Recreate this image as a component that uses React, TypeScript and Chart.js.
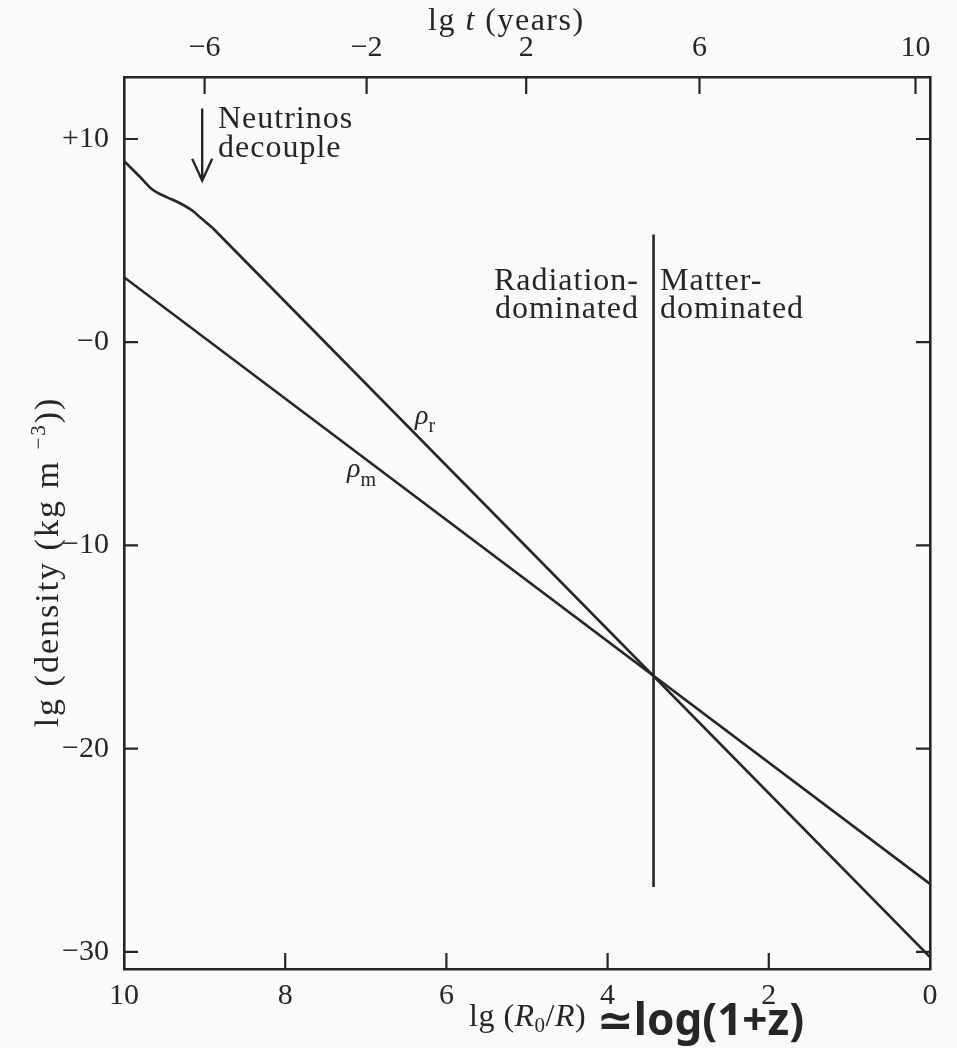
import React, { useEffect, useRef } from "react";
import { Chart, registerables } from "chart.js";

Chart.register(...registerables);

// ---- data ----
const lgR_matter = [10, 0];
const rhoMatter = [3.2, -26.65];
// radiation density: curved part around neutrino decoupling, then the straight slope-4 part
const lgR_radiationEarly = [10, 9.8, 9.64, 9.47, 9.31, 9.16, 9.06, 8.9];
const rhoRadiationEarly = [8.92, 8.13, 7.49, 7.14, 6.85, 6.5, 6.16, 5.62];
const lgR_radiationLate = [8.9, 0];
const rhoRadiationLate = [5.62, -30.25];
const equalityLgR = [3.43, 3.43];
const equalityRho = [5.3, -26.8];
const bottomTicks = [10, 8, 6, 4, 2, 0];
const densityTicks = [10, 0, -10, -20, -30];
const densityLabels = ["+10", "−0", "−10", "−20", "−30"];
const timeTickPos = [9.0, 6.99, 5.01, 2.86, 0.18];
const timeLabels = ["−6", "−2", "2", "6", "10"];
const neutrinoArrowLgR = 9.03;
const neutrinoArrowFrom = 11.5;
const neutrinoArrowTo = 7.95;

const INK = "#262626";
const SERIF = '"Liberation Serif", "DejaVu Serif", serif';

type Run = [string, string, number?];

function runsWidth(ctx: CanvasRenderingContext2D, runs: Run[]) {
  let w = 0;
  for (const [t, f] of runs) {
    ctx.font = f;
    w += ctx.measureText(t).width;
  }
  return w;
}

function drawRuns(ctx: CanvasRenderingContext2D, x: number, y: number, runs: Run[]) {
  let cx = x;
  for (const [t, f, dy] of runs) {
    ctx.font = f;
    ctx.fillText(t, cx, y + (dy || 0));
    cx += ctx.measureText(t).width;
  }
  return cx;
}

function setSpacing(ctx: any, v: string) {
  if ("letterSpacing" in ctx) ctx.letterSpacing = v;
}

const decorPlugin = {
  id: "decor",
  afterDraw(chart: any) {
    const ctx: CanvasRenderingContext2D = chart.ctx;
    const xs = chart.scales.x;
    const xt = chart.scales.xTop;
    const ys = chart.scales.y;
    const { left, right, top, bottom } = chart.chartArea;
    ctx.save();
    ctx.strokeStyle = INK;
    ctx.fillStyle = INK;
    ctx.lineWidth = 2.2;
    ctx.lineCap = "butt";

    // inward tick marks
    ctx.beginPath();
    for (const v of bottomTicks) {
      if (v === 10 || v === 0) continue;
      const px = xs.getPixelForValue(v);
      ctx.moveTo(px, bottom);
      ctx.lineTo(px, bottom - 16);
    }
    for (const v of timeTickPos) {
      const px = xt.getPixelForValue(v);
      ctx.moveTo(px, top);
      ctx.lineTo(px, top + 17);
    }
    for (const v of densityTicks) {
      const py = ys.getPixelForValue(v);
      ctx.moveTo(left, py);
      ctx.lineTo(left + 14, py);
      ctx.moveTo(right, py);
      ctx.lineTo(right - 14, py);
    }
    ctx.stroke();

    // neutrino decoupling arrow
    const ax = xs.getPixelForValue(neutrinoArrowLgR);
    const ay0 = ys.getPixelForValue(neutrinoArrowFrom);
    const ay1 = ys.getPixelForValue(neutrinoArrowTo);
    ctx.lineWidth = 2.4;
    ctx.beginPath();
    ctx.moveTo(ax, ay0);
    ctx.lineTo(ax, ay1);
    ctx.moveTo(ax - 10, ay1 - 22);
    ctx.lineTo(ax, ay1);
    ctx.lineTo(ax + 10, ay1 - 22);
    ctx.stroke();

    const f32 = `32px ${SERIF}`;
    ctx.textBaseline = "alphabetic";
    ctx.textAlign = "left";
    setSpacing(ctx, "1px");
    ctx.font = f32;
    ctx.fillText("Neutrinos", 218, 128);
    ctx.fillText("decouple", 218, 157);

    ctx.textAlign = "right";
    ctx.fillText("Radiation-", 639, 290);
    ctx.fillText("dominated", 639, 318);
    ctx.textAlign = "left";
    ctx.fillText("Matter-", 660, 290);
    ctx.fillText("dominated", 660, 318);
    setSpacing(ctx, "0px");

    // curve labels
    drawRuns(ctx, 415, 424, [["ρ", `italic 28px ${SERIF}`], ["r", `20px ${SERIF}`, 8]]);
    drawRuns(ctx, 347, 477, [["ρ", `italic 28px ${SERIF}`], ["m", `20px ${SERIF}`, 9]]);

    // top title
    setSpacing(ctx, "1.5px");
    drawRuns(ctx, 428, 30, [["lg ", f32], ["t", `italic 32px ${SERIF}`], [" (years)", f32]]);

    // bottom title (printed part + handwritten annotation)
    setSpacing(ctx, "0.5px");
    const endX = drawRuns(ctx, 469, 1026, [
      ["lg (", f32],
      ["R", `italic 32px ${SERIF}`],
      ["0", `21px ${SERIF}`, 6],
      ["/", f32],
      ["R", `italic 32px ${SERIF}`],
      [")", f32],
    ]);
    setSpacing(ctx, "0px");
    drawRuns(ctx, Math.max(endX + 8, 597), 1035, [["≃log(1+z)", 'bold 44px "Noto Sans", "DejaVu Sans", sans-serif']]);

    // y title (rotated)
    setSpacing(ctx, "2px");
    const yRuns: Run[] = [
      ["lg (density (kg m ", `34px ${SERIF}`],
      ["−3", `21px ${SERIF}`, -13],
      ["))", `34px ${SERIF}`],
    ];
    ctx.translate(47, 562);
    ctx.rotate(-Math.PI / 2);
    const w = runsWidth(ctx, yRuns);
    drawRuns(ctx, -w / 2, 11, yRuns);
    ctx.restore();
  },
};

const lineStyle = {
  borderColor: INK,
  borderWidth: 2.6,
  pointRadius: 0,
  fill: false,
};

export default function App() {
  const ref = useRef<HTMLCanvasElement | null>(null);

  useEffect(() => {
    document.body.style.margin = "0";
    const canvas = ref.current;
    if (!canvas) return;
    const tickFont = { family: SERIF, size: 30 };
    const chart = new Chart(canvas, {
      type: "line",
      data: {
        datasets: [
          {
            label: "ρr (decoupling)",
            data: lgR_radiationEarly.map((x, i) => ({ x, y: rhoRadiationEarly[i] })),
            ...lineStyle,
            tension: 0.4,
          },
          {
            label: "ρr",
            data: lgR_radiationLate.map((x, i) => ({ x, y: rhoRadiationLate[i] })),
            ...lineStyle,
            tension: 0,
          },
          {
            label: "ρm",
            data: lgR_matter.map((x, i) => ({ x, y: rhoMatter[i] })),
            ...lineStyle,
            tension: 0,
          },
          {
            label: "equality",
            data: equalityLgR.map((x, i) => ({ x, y: equalityRho[i] })),
            ...lineStyle,
            tension: 0,
          },
        ],
      },
      options: {
        responsive: false,
        animation: false,
        devicePixelRatio: 1,
        layout: { padding: 0 },
        plugins: {
          legend: { display: false },
          tooltip: { enabled: false },
          title: { display: false },
        },
        scales: {
          x: {
            type: "linear",
            position: "bottom",
            reverse: true,
            min: 0,
            max: 10,
            afterBuildTicks: (s: any) => {
              s.ticks = bottomTicks.map((v) => ({ value: v }));
            },
            afterFit: (s: any) => {
              s.height = 79;
            },
            ticks: {
              font: tickFont,
              color: INK,
              padding: 1,
              autoSkip: false,
              maxRotation: 0,
              callback: (v: any) => String(v),
            },
            grid: { display: false },
            border: { display: true, color: INK, width: 2.6 },
          },
          xTop: {
            type: "linear",
            position: "top",
            reverse: true,
            min: 0,
            max: 10,
            afterBuildTicks: (s: any) => {
              s.ticks = timeTickPos.map((v) => ({ value: v }));
            },
            afterFit: (s: any) => {
              s.height = 77;
            },
            ticks: {
              font: tickFont,
              color: INK,
              padding: 3,
              autoSkip: false,
              maxRotation: 0,
              callback: (_v: any, i: number) => timeLabels[i],
            },
            grid: { display: false },
            border: { display: true, color: INK, width: 2.6 },
          },
          y: {
            type: "linear",
            position: "left",
            min: -30.84,
            max: 13.05,
            afterBuildTicks: (s: any) => {
              s.ticks = densityTicks.map((v) => ({ value: v }));
            },
            afterFit: (s: any) => {
              s.width = 124;
            },
            ticks: {
              font: tickFont,
              color: INK,
              padding: 7,
              autoSkip: false,
              callback: (_v: any, i: number) => densityLabels[i],
            },
            grid: { display: false },
            border: { display: true, color: INK, width: 2.6 },
          },
          yRight: {
            type: "linear",
            position: "right",
            min: -30.84,
            max: 13.05,
            afterBuildTicks: (s: any) => {
              s.ticks = densityTicks.map((v) => ({ value: v }));
            },
            afterFit: (s: any) => {
              s.width = 27;
            },
            ticks: { display: false },
            grid: { display: false },
            border: { display: true, color: INK, width: 2.6 },
          },
        },
      },
      plugins: [decorPlugin],
    });
    return () => chart.destroy();
  }, []);

  return (
    <div
      style={{
        position: "fixed",
        left: 0,
        top: 0,
        width: 957,
        height: 1048,
        background: "#fafaf8",
      }}
    >
      <canvas ref={ref} width={957} height={1048} style={{ display: "block" }} />
    </div>
  );
}
